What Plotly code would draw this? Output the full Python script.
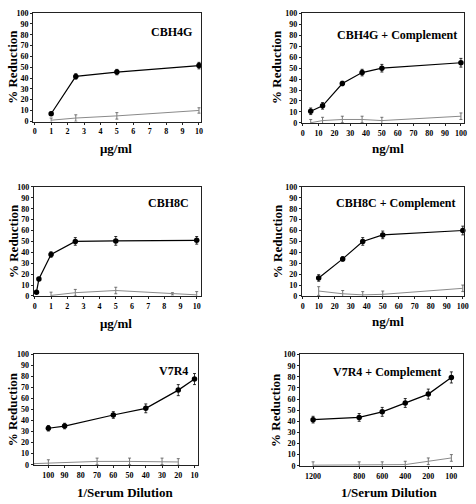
import plotly.graph_objects as go

W, H = 476, 504

# ---------------- data ----------------
# Panel 1: CBH4G (ug/ml)
p1_x = [1, 2.5, 5, 10]
p1_y = [7, 41.5, 45.5, 51.5]
p1_e = [1.5, 2.5, 2.5, 3]
p1g_x = [1, 2.5, 5, 10]
p1g_y = [1, 3, 5, 10]
p1g_e = [2, 3, 3, 2.5]

# Panel 2: CBH4G + Complement (ng/ml)
p2_x = [5, 12.5, 25, 37.5, 50, 100]
p2_y = [10.5, 15.5, 36, 46, 50, 55]
p2_e = [3, 3, 2, 3, 3.5, 4]
p2g_x = [5, 12.5, 25, 37.5, 50, 100]
p2g_y = [0, 2, 3, 3, 2, 6]
p2g_e = [3, 3, 3, 3, 3, 3]

# Panel 3: CBH8C (ug/ml)
p3_x = [0.1, 0.25, 1, 2.5, 5, 10]
p3_y = [3.5, 15.5, 38, 50, 50.5, 51]
p3_e = [1, 1.5, 2.5, 3.5, 4, 3.5]
p3g_x = [1, 2.5, 5, 8.5, 10]
p3g_y = [0.5, 3, 5, 2, 1]
p3g_e = [3, 3, 3, 1, 3]

# Panel 4: CBH8C + Complement (ng/ml)
p4_x = [10, 25, 37.5, 50, 100]
p4_y = [16.5, 34, 50, 56, 60]
p4_e = [3, 2, 3.5, 3.5, 4]
p4g_x = [10, 25, 37.5, 50, 100]
p4g_y = [4.5, 2, 1, 1.5, 7]
p4g_e = [4, 3, 3, 3, 3]

# Panel 5: V7R4 (1/Serum Dilution)
p5_x = [100, 90, 60, 40, 20, 10]
p5_y = [33, 35, 45, 51, 67.5, 77.5]
p5_e = [2.5, 2.5, 3, 4, 5, 5]
p5g_x = [109, 100, 70, 50, 30, 20]
p5g_y = [1, 1.5, 3, 3, 3, 2.5]
p5g_e = [0, 3, 3, 3, 3, 3]

# Panel 6: V7R4 + Complement (1/Serum Dilution)
p6_cats = ["1200", "1000", "800", "600", "400", "200", "100"]
p6_ticks = ["1200", "800", "600", "400", "200", "100"]
p6_x = ["1200", "800", "600", "400", "200", "100"]
p6_y = [41.5, 43.5, 48.5, 56.5, 64.5, 79.5]
p6_e = [3, 3.5, 4, 4, 4.5, 5]
p6g_x = ["1200", "800", "600", "400", "200", "100"]
p6g_y = [0.5, 0.5, 0.5, 1, 4, 7]
p6g_e = [3, 3, 3, 3, 3, 3]

titles = ["CBH4G", "CBH4G + Complement", "CBH8C", "CBH8C + Complement",
          "V7R4", "V7R4 + Complement"]
xtitles = ["μg/ml", "ng/ml", "μg/ml", "ng/ml", "1/Serum Dilution", "1/Serum Dilution"]
ytitle = "% Reduction"

# ---------------- layout geometry (pixels) ----------------
boxes = [  # x0, x1, y0(top), y1(bottom)
    (32.5, 203, 9, 119.5),
    (304.7, 469, 9.5, 121),
    (33.3, 202.3, 185.5, 297),
    (304.7, 469, 185.5, 297),
    (33, 200, 355.5, 468.5),
    (303, 468, 356, 469.5),
]
xranges = [[-0.1, 10.15], [-0.6, 102], [-0.06, 10.25], [-0.5, 100.8],
           [109.1, 7.56], [-0.56, 6.51]]
title_pos = [(173, 28), (401, 31), (170, 202), (400, 202), (175, 373), (391, 374)]
xt_pos = [(116, 147), (392, 147), (116, 325), (392, 323), (126, 496), (393, 496)]
yt_pos = [(12, 64), (279.5, 64), (12, 241), (279.5, 241), (12, 412), (278, 412)]

FONT = "Liberation Serif"
fig = go.Figure()

series = [
    (p1_x, p1_y, p1_e, p1g_x, p1g_y, p1g_e),
    (p2_x, p2_y, p2_e, p2g_x, p2g_y, p2g_e),
    (p3_x, p3_y, p3_e, p3g_x, p3g_y, p3g_e),
    (p4_x, p4_y, p4_e, p4g_x, p4g_y, p4g_e),
    (p5_x, p5_y, p5_e, p5g_x, p5g_y, p5g_e),
    (p6_x, p6_y, p6_e, p6g_x, p6g_y, p6g_e),
]

for i, (bx, by, be, gx, gy, ge) in enumerate(series):
    n = "" if i == 0 else str(i + 1)
    fig.add_trace(go.Scatter(
        x=gx, y=gy, mode="lines", xaxis="x" + n, yaxis="y" + n,
        line=dict(color="#8a8a8a", width=1),
        error_y=dict(type="data", array=ge, color="#555555", thickness=0.8, width=1.5),
        showlegend=False, cliponaxis=False))
    fig.add_trace(go.Scatter(
        x=bx, y=by, mode="lines+markers", xaxis="x" + n, yaxis="y" + n,
        line=dict(color="black", width=1.2),
        marker=dict(color="black", size=5.5, symbol="circle"),
        error_y=dict(type="data", array=be, color="black", thickness=0.8, width=1.5),
        showlegend=False, cliponaxis=False))

layout = dict(width=W, height=H, margin=dict(l=0, r=0, t=0, b=0),
              paper_bgcolor="white", plot_bgcolor="white", showlegend=False)

tickfont = dict(family=FONT, size=8, color="black", weight="bold")
annotations = []
for i, (x0, x1, y0, y1) in enumerate(boxes):
    n = "" if i == 0 else str(i + 1)
    xa = dict(domain=[x0 / W, x1 / W], anchor="y" + n, range=xranges[i],
              showgrid=False, zeroline=False, showline=True, mirror=True,
              linecolor="#222", linewidth=1, ticks="outside", ticklen=2,
              tickcolor="#222", tickfont=tickfont, fixedrange=True)
    if i in (0, 2):
        xa.update(tickmode="linear", tick0=0, dtick=1)
    elif i in (1, 3):
        xa.update(tickmode="linear", tick0=0, dtick=10)
    elif i == 4:
        xa.update(tickmode="array", tickvals=[100, 90, 80, 70, 60, 50, 40, 30, 20, 10])
    else:
        xa.update(type="category", categoryorder="array", categoryarray=p6_cats,
                  tickmode="array", tickvals=p6_ticks, ticktext=p6_ticks)
    ya = dict(domain=[1 - y1 / H, 1 - y0 / H], anchor="x" + n, range=[-0.3, 100.3],
              showgrid=False, zeroline=False, showline=True, mirror=True,
              linecolor="#222", linewidth=1, ticks="outside", ticklen=2,
              tickcolor="#222", tickmode="linear", tick0=0, dtick=10,
              tickfont=tickfont, fixedrange=True, ticklabelstandoff=0)
    layout["xaxis" + n] = xa
    layout["yaxis" + n] = ya

    tx, ty = title_pos[i]
    annotations.append(dict(text=titles[i], x=tx / W, y=1 - ty / H, xref="paper",
                            yref="paper", showarrow=False, xanchor="center",
                            yanchor="middle",
                            font=dict(family=FONT, size=12, color="black", weight="bold")))
    lx, ly = xt_pos[i]
    annotations.append(dict(text=xtitles[i], x=lx / W, y=1 - ly / H, xref="paper",
                            yref="paper", showarrow=False, xanchor="center",
                            yanchor="middle",
                            font=dict(family=FONT, size=13, color="black", weight="bold")))
    vx, vy = yt_pos[i]
    annotations.append(dict(text=ytitle, x=vx / W, y=1 - vy / H, xref="paper",
                            yref="paper", showarrow=False, xanchor="center",
                            yanchor="middle", textangle=-90,
                            font=dict(family=FONT, size=13, color="black", weight="bold")))

layout["annotations"] = annotations
fig.update_layout(**layout)
fig.write_html("out.html")
